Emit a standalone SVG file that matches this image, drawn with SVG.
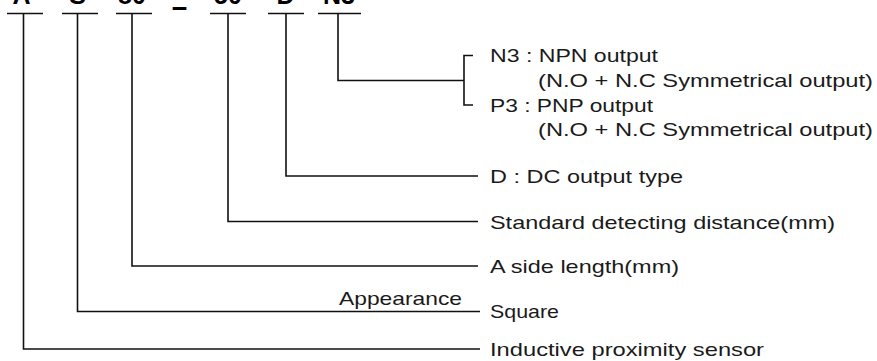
<svg xmlns="http://www.w3.org/2000/svg" width="877" height="361" viewBox="0 0 877 361">
<style>
.code{font-family:"Liberation Sans",Arial,sans-serif;font-weight:bold;font-size:25px;fill:#000;text-anchor:middle}
.lbl{font-family:"Liberation Sans",Arial,sans-serif;font-size:19px;fill:#1a1a1a}
.ln{fill:none;stroke:#111;stroke-width:1.6}
</style>
<rect width="877" height="361" fill="#fff"/>
<g id="code">
<text class="code" x="21.5" y="3.5">A</text>
<text class="code" x="77.5" y="3.5">S</text>
<text class="code" x="132" y="3.5">80</text>
<text class="code" x="179.5" y="14.5" textLength="18" lengthAdjust="spacingAndGlyphs">-</text>
<text class="code" x="228" y="3.5">50</text>
<text class="code" x="285.5" y="3.5">D</text>
<text class="code" x="339" y="3.5">N3</text>
</g>
<g id="connectors" class="ln">
<path d="M7 13.5H43M62 13.5H98M116 13.5H152M210 13.5H246M268 13.5H304M318 13.5H361"/>
<path d="M23.5 13.5V349H480"/>
<path d="M77.5 13.5V311.5H480"/>
<path d="M132 13.5V266H478"/>
<path d="M228 13.5V221.5H478"/>
<path d="M286 13.5V176H478"/>
<path d="M338 13.5V80.5H464"/>
<path d="M473 55.5H464V105H473"/>
</g>
<g id="n3"><text class="lbl" x="490" y="62" textLength="168" lengthAdjust="spacingAndGlyphs">N3 : NPN output</text>
<text class="lbl" x="538" y="86.5" textLength="335" lengthAdjust="spacingAndGlyphs">(N.O + N.C Symmetrical output)</text></g>
<g id="p3"><text class="lbl" x="490" y="111.5" textLength="163" lengthAdjust="spacingAndGlyphs">P3 : PNP output</text>
<text class="lbl" x="538" y="136" textLength="335" lengthAdjust="spacingAndGlyphs">(N.O + N.C Symmetrical output)</text></g>
<g id="d"><text class="lbl" x="490" y="183" textLength="193" lengthAdjust="spacingAndGlyphs">D : DC output type</text></g>
<g id="distance"><text class="lbl" x="490" y="229" textLength="345" lengthAdjust="spacingAndGlyphs">Standard detecting distance(mm)</text></g>
<g id="side"><text class="lbl" x="490" y="273" textLength="189" lengthAdjust="spacingAndGlyphs">A side length(mm)</text></g>
<g id="appearance"><text class="lbl" x="339" y="305" textLength="123" lengthAdjust="spacingAndGlyphs">Appearance</text>
<text class="lbl" x="490" y="318" textLength="69" lengthAdjust="spacingAndGlyphs">Square</text></g>
<g id="sensor"><text class="lbl" x="490" y="355.5" textLength="274" lengthAdjust="spacingAndGlyphs">Inductive proximity sensor</text></g>
</svg>
